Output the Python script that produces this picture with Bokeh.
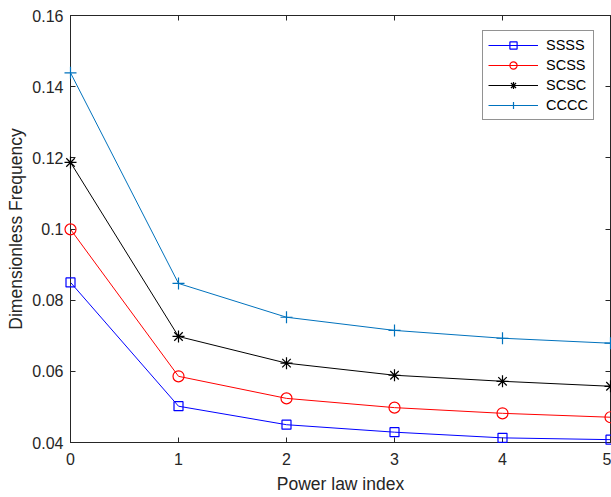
from bokeh.plotting import figure
from bokeh.models import Range1d, FixedTicker, LinearAxis, Legend
from bokeh.embed import file_html
from bokeh.resources import INLINE

# ---- data ----
x_index = [0, 1, 2, 3, 4, 5]
ssss = [0.0850, 0.0502, 0.0450, 0.0429, 0.0413, 0.0408]
scss = [0.0999, 0.0586, 0.0524, 0.0498, 0.0482, 0.0471]
scsc = [0.1187, 0.0698, 0.0623, 0.0589, 0.0572, 0.0558]
cccc = [0.1439, 0.0847, 0.0752, 0.0715, 0.0693, 0.0679]
series_names = ["SSSS", "SCSS", "SCSC", "CCCC"]
x_ticks = [0, 1, 2, 3, 4, 5]
x_tick_labels = ["0", "1", "2", "3", "4", "5"]
y_ticks = [0.04, 0.06, 0.08, 0.10, 0.12, 0.14, 0.16]
y_tick_labels = ["0.04", "0.06", "0.08", "0.1", "0.12", "0.14", "0.16"]

FONT = "Liberation Sans"
AX = "#262626"

p = figure(width=611, height=497, output_backend="svg", toolbar_location=None,
           x_range=Range1d(0, 5), y_range=Range1d(0.04, 0.16),
           min_border_left=70, min_border_right=1, min_border_top=15,
           min_border_bottom=55, x_axis_label="Power law index",
           y_axis_label="Dimensionless Frequency")
p.background_fill_color = "white"
p.border_fill_color = "white"
p.outline_line_color = AX
p.xgrid.visible = False
p.ygrid.visible = False

def style_axis(ax, ticks, labels, show_labels=True):
    ax.ticker = FixedTicker(ticks=ticks)
    ax.major_tick_in = 5
    ax.major_tick_out = 0
    ax.minor_tick_line_color = None
    ax.axis_line_color = AX
    ax.major_tick_line_color = AX
    ax.major_label_text_font = FONT
    if show_labels:
        ax.major_label_overrides = {t: l for t, l in zip(ticks, labels)}
        ax.major_label_text_color = AX
        ax.major_label_text_font_size = "16px"
    else:
        ax.major_label_text_color = None
        ax.major_label_text_font_size = "0px"
        ax.major_label_standoff = 0

style_axis(p.xaxis[0], x_ticks, x_tick_labels)
style_axis(p.yaxis[0], y_ticks, y_tick_labels)
p.xaxis[0].major_label_standoff = 10
p.yaxis[0].major_label_standoff = 7
for ax in (p.xaxis[0], p.yaxis[0]):
    ax.axis_label_text_font = FONT
    ax.axis_label_text_font_size = "17.5px"
    ax.axis_label_text_font_style = "normal"
    ax.axis_label_text_color = AX
p.xaxis[0].axis_label_standoff = 6
p.yaxis[0].axis_label_standoff = 3

top_ax = LinearAxis()
style_axis(top_ax, x_ticks, x_tick_labels, show_labels=False)
p.add_layout(top_ax, "above")
right_ax = LinearAxis()
style_axis(right_ax, y_ticks, y_tick_labels, show_labels=False)
p.add_layout(right_ax, "right")

colors = ["#0000ff", "#ff0000", "#000000", "#0072bd"]
markers = ["square", "circle", "asterisk", "cross"]
sizes = [9, 11, 12, 12]
items = []
for name, ys, c, m, s in zip(series_names, [ssss, scss, scsc, cccc], colors, markers, sizes):
    r1 = p.line(x_index, ys, line_color=c, line_width=1)
    r2 = p.scatter(x_index, ys, marker=m, size=s, line_color=c, fill_color=None,
                   line_width=1.2, level="overlay")
    items.append((name, [r1, r2]))

legend = Legend(items=items, location=(412, 322))
legend.label_text_font = FONT
legend.label_text_font_size = "14.5px"
legend.label_text_color = "#000000"
legend.border_line_color = AX
legend.border_line_width = 1
legend.background_fill_color = "white"
legend.background_fill_alpha = 1
legend.padding = 5
legend.margin = 0
legend.spacing = 2
legend.glyph_width = 50
legend.glyph_height = 18
legend.label_height = 18
legend.label_standoff = 8
p.add_layout(legend, "center")

open("out.html", "w").write(file_html(p, INLINE))
